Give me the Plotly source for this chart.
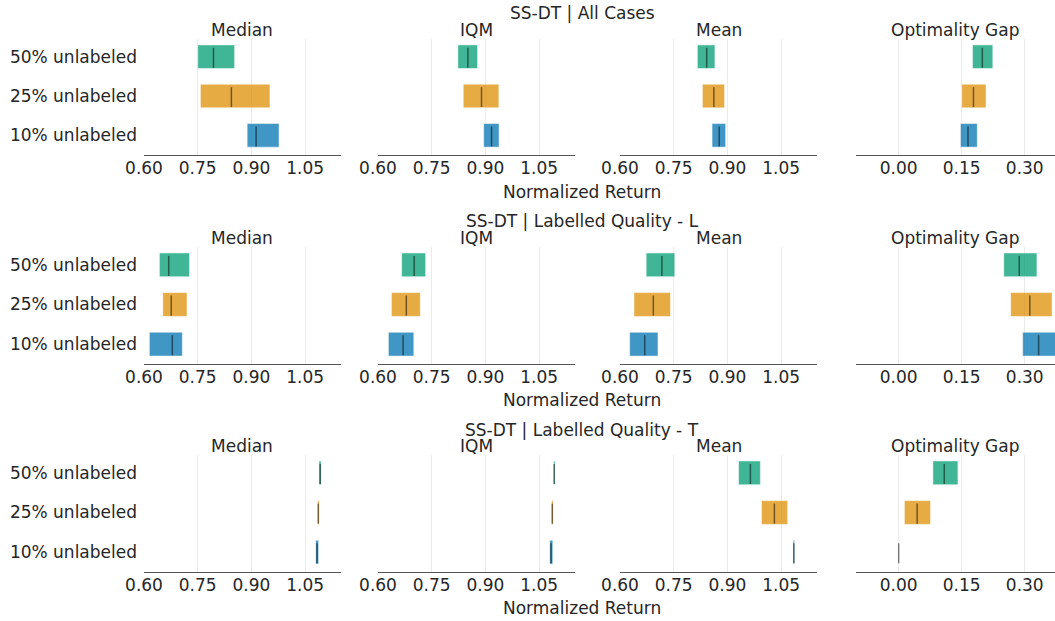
import plotly.graph_objects as go

W, H = 1055, 621

categories = ["10% unlabeled", "25% unlabeled", "50% unlabeled"]
metrics = ["Median", "IQM", "Mean", "Optimality Gap"]
row_titles = ["SS-DT | All Cases", "SS-DT | Labelled Quality - L", "SS-DT | Labelled Quality - T"]
x_label = "Normalized Return"
colors = ["#0173b2", "#de8f05", "#029e73"]

score_ticks = [0.60, 0.75, 0.90, 1.05]
gap_ticks = [0.00, 0.15, 0.30]

# Each list: one inner list per metric (Median, IQM, Mean, Optimality Gap),
# values in category order (10%, 25%, 50% unlabeled)
all_lower = [[0.888, 0.7575, 0.750], [0.895, 0.838, 0.823], [0.857, 0.830, 0.816], [0.147, 0.150, 0.1756]]
all_point = [[0.913, 0.844, 0.794], [0.917, 0.889, 0.851], [0.877, 0.862, 0.842], [0.165, 0.178, 0.199]]
all_upper = [[0.977, 0.9516, 0.853], [0.938, 0.9375, 0.878], [0.895, 0.892, 0.865], [0.187, 0.208, 0.224]]

ql_lower = [[0.615, 0.6525, 0.643], [0.629, 0.6375, 0.666], [0.627, 0.639, 0.673], [0.295, 0.2665, 0.250]]
ql_point = [[0.679, 0.676, 0.669], [0.670, 0.679, 0.701], [0.669, 0.693, 0.717], [0.333, 0.312, 0.287]]
ql_upper = [[0.707, 0.720, 0.727], [0.700, 0.718, 0.733], [0.706, 0.741, 0.753], [0.378, 0.365, 0.329]]

qt_lower = [[1.0795, 1.0845, 1.0885], [1.0795, 1.0845, 1.0900], [1.0835, 0.995, 0.931], [0.0, 0.0136, 0.0814]]
qt_point = [[1.083, 1.0866, 1.092], [1.083, 1.0866, 1.092], [1.0853, 1.031, 0.964], [0.0, 0.0439, 0.1085]]
qt_upper = [[1.0875, 1.0890, 1.0945], [1.088, 1.0890, 1.0940], [1.0875, 1.068, 0.992], [0.0, 0.0758, 0.141]]

rows_data = [
    (all_lower, all_point, all_upper),
    (ql_lower, ql_point, ql_upper),
    (qt_lower, qt_point, qt_upper),
]

# layout geometry in pixels
col_px = [(144, 341), (378, 575), (620, 817), (856, 1055)]
row_px = [(39, 155), (247, 364), (455, 572)]
suptitle_y = [13, 221, 430]
title_y = [30, 238, 446]
xlabel_y = [192, 400, 608]
center_x = 582
score_range = [0.60, 1.15]
gap_range = [-0.1016, 0.372]
y_range = [-0.5, 2.45]

FONT = "DejaVu Sans"
TXT = "#262626"
FS = 17

fig = go.Figure()
layout = {}
annotations = []

def px_x(v):
    return v / W

def px_y(v):
    return 1 - v / H

n = 0
for r, (lo, pt, hi) in enumerate(rows_data):
    for c, metric in enumerate(metrics):
        n += 1
        xa = "x" if n == 1 else f"x{n}"
        ya = "y" if n == 1 else f"y{n}"
        xkey = "xaxis" if n == 1 else f"xaxis{n}"
        ykey = "yaxis" if n == 1 else f"yaxis{n}"
        yvals = list(range(len(categories)))
        fig.add_trace(go.Bar(
            orientation="h",
            y=yvals,
            x=[hi[c][i] - lo[c][i] for i in yvals],
            base=[lo[c][i] for i in yvals],
            width=0.6,
            marker=dict(color=colors, line=dict(color="white", width=0.5)),
            opacity=0.75,
            xaxis=xa, yaxis=ya, showlegend=False, hoverinfo="skip",
        ))
        lx, ly = [], []
        for i in yvals:
            lx += [pt[c][i], pt[c][i], None]
            ly += [i - 7.5 * 0.6 / 16, i + 6 * 0.6 / 16, None]
        fig.add_trace(go.Scatter(
            x=lx, y=ly, mode="lines",
            line=dict(color="rgba(0,0,0,0.5)", width=1.5),
            xaxis=xa, yaxis=ya, showlegend=False, hoverinfo="skip",
        ))
        is_gap = metric == "Optimality Gap"
        layout[xkey] = dict(
            domain=[px_x(col_px[c][0]), px_x(col_px[c][1])],
            anchor=ya,
            range=gap_range if is_gap else score_range,
            tickvals=gap_ticks if is_gap else score_ticks,
            tickformat=".2f",
            showgrid=True, gridcolor="#ebebeb", gridwidth=1,
            zeroline=False,
            showline=True, linecolor="#555555", linewidth=1.3,
            ticks="",
            ticklabelstandoff=-3,
            tickfont=dict(family=FONT, size=FS, color=TXT),
            automargin=False,
            fixedrange=True,
        )
        layout[ykey] = dict(
            domain=[px_y(row_px[r][1]), px_y(row_px[r][0])],
            anchor=xa,
            range=y_range,
            tickvals=yvals,
            ticktext=categories,
            showticklabels=(c == 0),
            showgrid=False, zeroline=False, showline=False,
            ticks="",
            ticklabelstandoff=6,
            tickfont=dict(family=FONT, size=FS, color=TXT),
            automargin=False,
            fixedrange=True,
        )
        annotations.append(dict(
            x=px_x((col_px[c][0] + col_px[c][1]) / 2), y=px_y(title_y[r]),
            xref="paper", yref="paper", text=metric, showarrow=False,
            xanchor="center", yanchor="middle",
            font=dict(family=FONT, size=FS, color=TXT),
        ))
    annotations.append(dict(
        x=px_x(center_x), y=px_y(suptitle_y[r]), xref="paper", yref="paper",
        text=row_titles[r], showarrow=False, xanchor="center", yanchor="middle",
        font=dict(family=FONT, size=FS, color=TXT),
    ))
    annotations.append(dict(
        x=px_x(center_x), y=px_y(xlabel_y[r]), xref="paper", yref="paper",
        text=x_label, showarrow=False, xanchor="center", yanchor="middle",
        font=dict(family=FONT, size=FS, color=TXT),
    ))

fig.update_layout(
    width=W, height=H,
    autosize=False,
    margin=dict(l=0, r=0, t=0, b=0, pad=0),
    paper_bgcolor="white", plot_bgcolor="white",
    barmode="overlay",
    annotations=annotations,
    font=dict(family=FONT, color=TXT),
    **layout,
)

fig.write_html(
    "out.html",
    config={"displayModeBar": False},
    post_script="document.body.style.margin='0';document.body.style.overflow='hidden';",
)
